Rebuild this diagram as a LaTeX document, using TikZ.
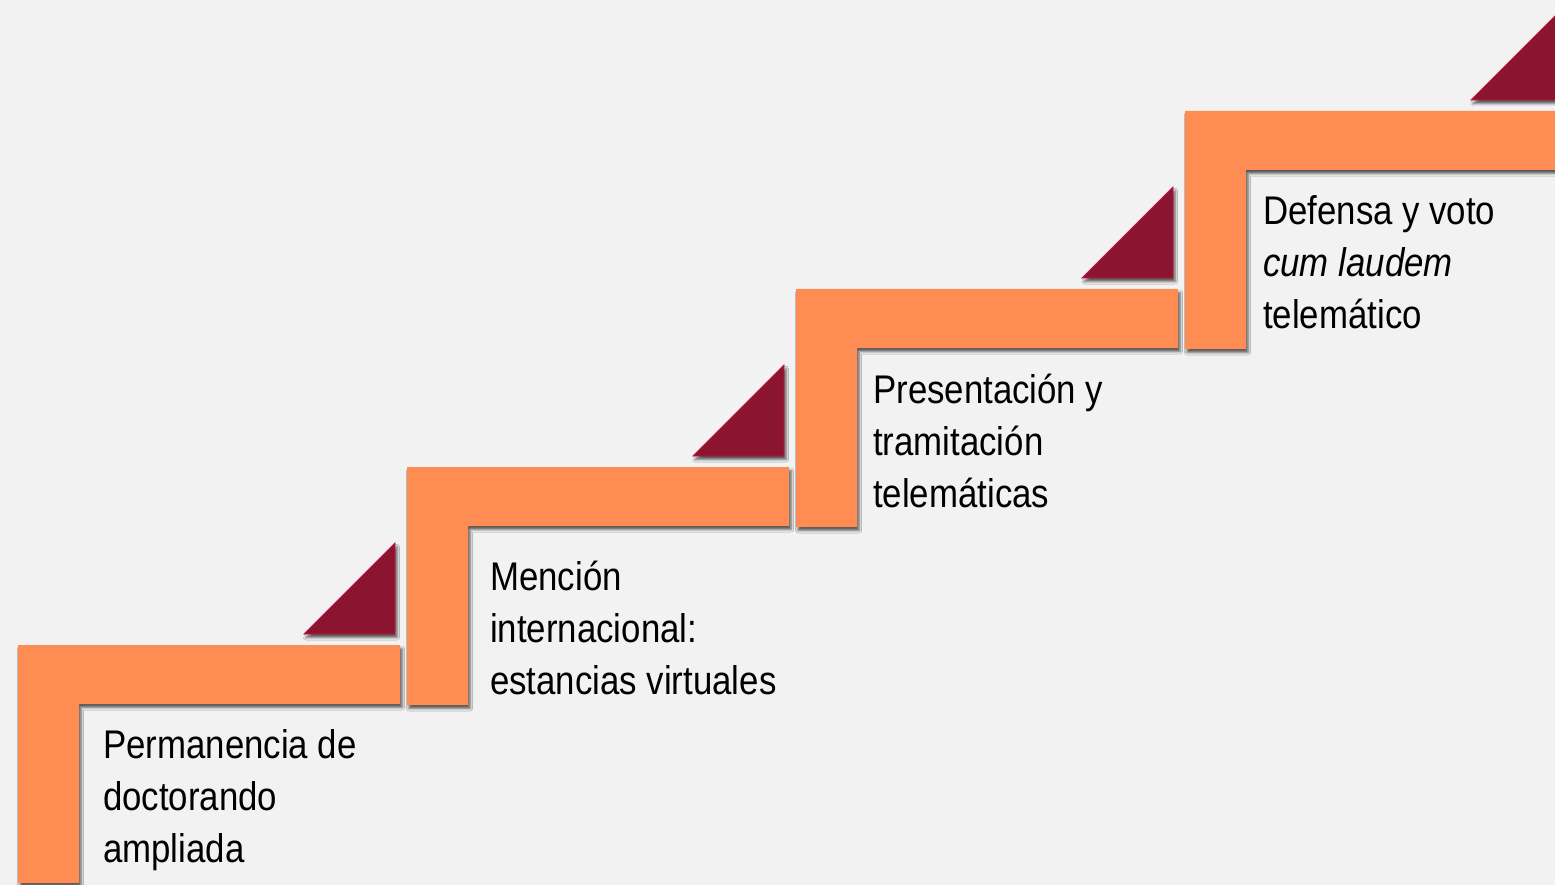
\documentclass[tikz,border=0pt]{standalone}
\usepackage{fontspec}
\setmainfont{Liberation Sans}[FakeStretch=0.87]
\usetikzlibrary{shadows.blur}

\definecolor{stairorange}{RGB}{255,140,82}
\definecolor{flagwine}{RGB}{139,21,48}
\definecolor{flagedge}{RGB}{196,20,60}
\definecolor{slidegray}{RGB}{242,242,242}

\tikzset{
    softshadow/.style={blur shadow={shadow xshift=2pt,shadow yshift=-3.5pt,
        shadow blur radius=2.5pt,shadow opacity=65}},
    stair/.style={fill=stairorange,draw=none,softshadow},
    flag/.style={fill=flagwine,draw=flagedge,line width=0.8pt,softshadow},
    caption/.style={anchor=north west,inner sep=0pt,align=left,
        font=\fontsize{40}{52}\selectfont}
}

\begin{document}
\begin{tikzpicture}[x=1pt,y=-1pt]
    \fill[slidegray] (0,0) rectangle (1555,885);
    \useasboundingbox (0,0) rectangle (1555,885);
    \clip (0,0) rectangle (1555,885);

    % One L-shaped step and its triangle per stage
    \foreach \i in {0,1,2,3}{
        \pgfmathsetmacro\sx{18+389*\i}
        \pgfmathsetmacro\sy{645-178*\i}
        \draw[stair] (\sx,\sy) -- ++(382,0) -- ++(0,59) -- ++(-321,0)
            -- ++(0,179) -- ++(-61,0) -- cycle;
        \draw[flag] (\sx+286,\sy-11) -- ++(91,0) -- ++(0,-91) -- cycle;
    }

    % Captions, first baseline 36.4pt under the anchor
    \foreach \tx/\ty/\nm/\txt in {
        103/721.6/perm/{Permanencia de\\doctorando\\ampliada},
        490/553.6/mencion/{Mención\\internacional:\\estancias virtuales},
        873/366.6/present/{Presentación y\\tramitación\\telemáticas},
        1263/187.6/defensa/{Defensa y voto\\\textit{cum laudem}\\telemático}}{
        \node[caption] (\nm) at (\tx,\ty) {\strut\txt};
    }
\end{tikzpicture}
\end{document}
